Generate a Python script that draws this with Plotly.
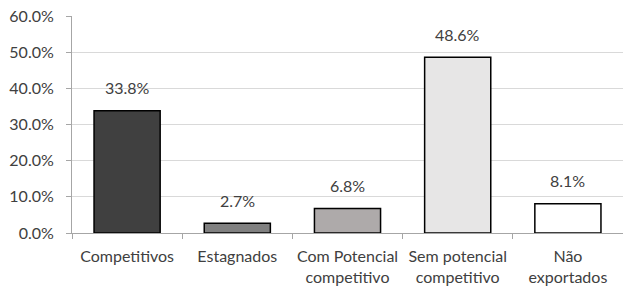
import plotly.graph_objects as go

categories = ["Competitivos", "Estagnados", "Com Potencial<br>competitivo", "Sem potencial<br>competitivo", "Não<br>exportados"]
values = [0.338, 0.027, 0.068, 0.486, 0.081]
colors = ["#404040", "#808080", "#AEAAAA", "#E7E6E6", "#FFFFFF"]
y_ticks = [0, 0.1, 0.2, 0.3, 0.4, 0.5, 0.6]

font_family = "Lato, 'Open Sans', sans-serif"
text_color = "#404040"
fs = 16

fig = go.Figure()
fig.add_trace(go.Bar(
    x=categories, y=values,
    marker=dict(color=colors, line=dict(color="#000000", width=1.5)),
    width=0.6,
    hoverinfo="skip",
))

for c, v in zip(categories, values):
    fig.add_annotation(x=c, y=v, text=f"{v*100:.1f}%", showarrow=False,
                       yanchor="middle", yshift=23,
                       font=dict(family=font_family, size=fs, color=text_color))

fig.update_layout(
    width=623, height=291,
    margin=dict(l=72, r=0, t=16, b=58, autoexpand=False),
    plot_bgcolor="white", paper_bgcolor="white",
    showlegend=False,
    font=dict(family=font_family, size=fs, color=text_color),
)
fig.update_yaxes(
    range=[0, 0.6], tickvals=y_ticks, tickformat=".1%",
    showgrid=True, gridcolor="#D9D9D9", gridwidth=1,
    showline=True, linecolor="#A6A6A6", linewidth=1,
    ticks="outside", ticklen=5, tickcolor="#A6A6A6",
    ticklabelstandoff=9, zeroline=False, automargin=False,
    tickfont=dict(family=font_family, size=fs, color=text_color),
)
fig.update_xaxes(
    showline=True, linecolor="#A6A6A6", linewidth=1,
    ticks="outside", ticklen=5, tickcolor="#A6A6A6",
    tickson="boundaries", automargin=False, tickangle=0,
    ticklabelstandoff=9,
    tickfont=dict(family=font_family, size=fs, color=text_color),
)

fig.write_html(
    "out.html",
    config={"displayModeBar": False},
    post_script="document.body.style.margin='0';document.body.style.padding='0';document.body.style.overflow='hidden';",
)
